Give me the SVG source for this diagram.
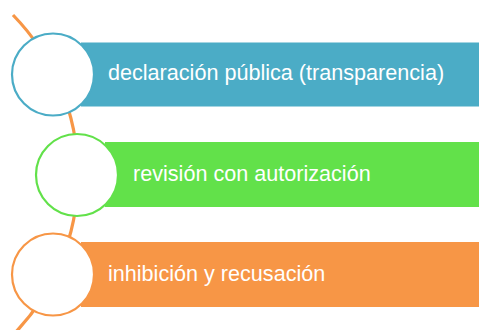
<svg xmlns="http://www.w3.org/2000/svg" width="479" height="330" viewBox="0 0 479 330">
<style>
.lbl{font-family:"Liberation Sans",Arial,sans-serif;font-size:21.6px;fill:#ffffff}
.ring{fill:#ffffff;stroke-width:2.2}
</style>
<rect width="479" height="330" fill="#ffffff"/>
<g id="connectors">
<path d="M 13 15 A 229.5 229.5 0 0 1 13 335" fill="none" stroke="#F79646" stroke-width="3.2"/>
</g>
<g id="node1">
<rect x="81" y="42.5" width="398" height="64" fill="#4BACC6"/>
<circle class="ring" cx="53" cy="74.5" r="41" stroke="#4BACC6"/>
<text class="lbl" x="108" y="79.5">declaración pública (transparencia)</text>
</g>
<g id="node2">
<rect x="105" y="142" width="374" height="65" fill="#62E14A"/>
<circle class="ring" cx="77" cy="175" r="41" stroke="#62E14A"/>
<text class="lbl" x="133" y="180.5">revisión con autorización</text>
</g>
<g id="node3">
<rect x="81" y="242" width="398" height="65" fill="#F79646"/>
<circle class="ring" cx="53" cy="274.5" r="41" stroke="#F79646"/>
<text class="lbl" x="108" y="280.5">inhibición y recusación</text>
</g>
</svg>
